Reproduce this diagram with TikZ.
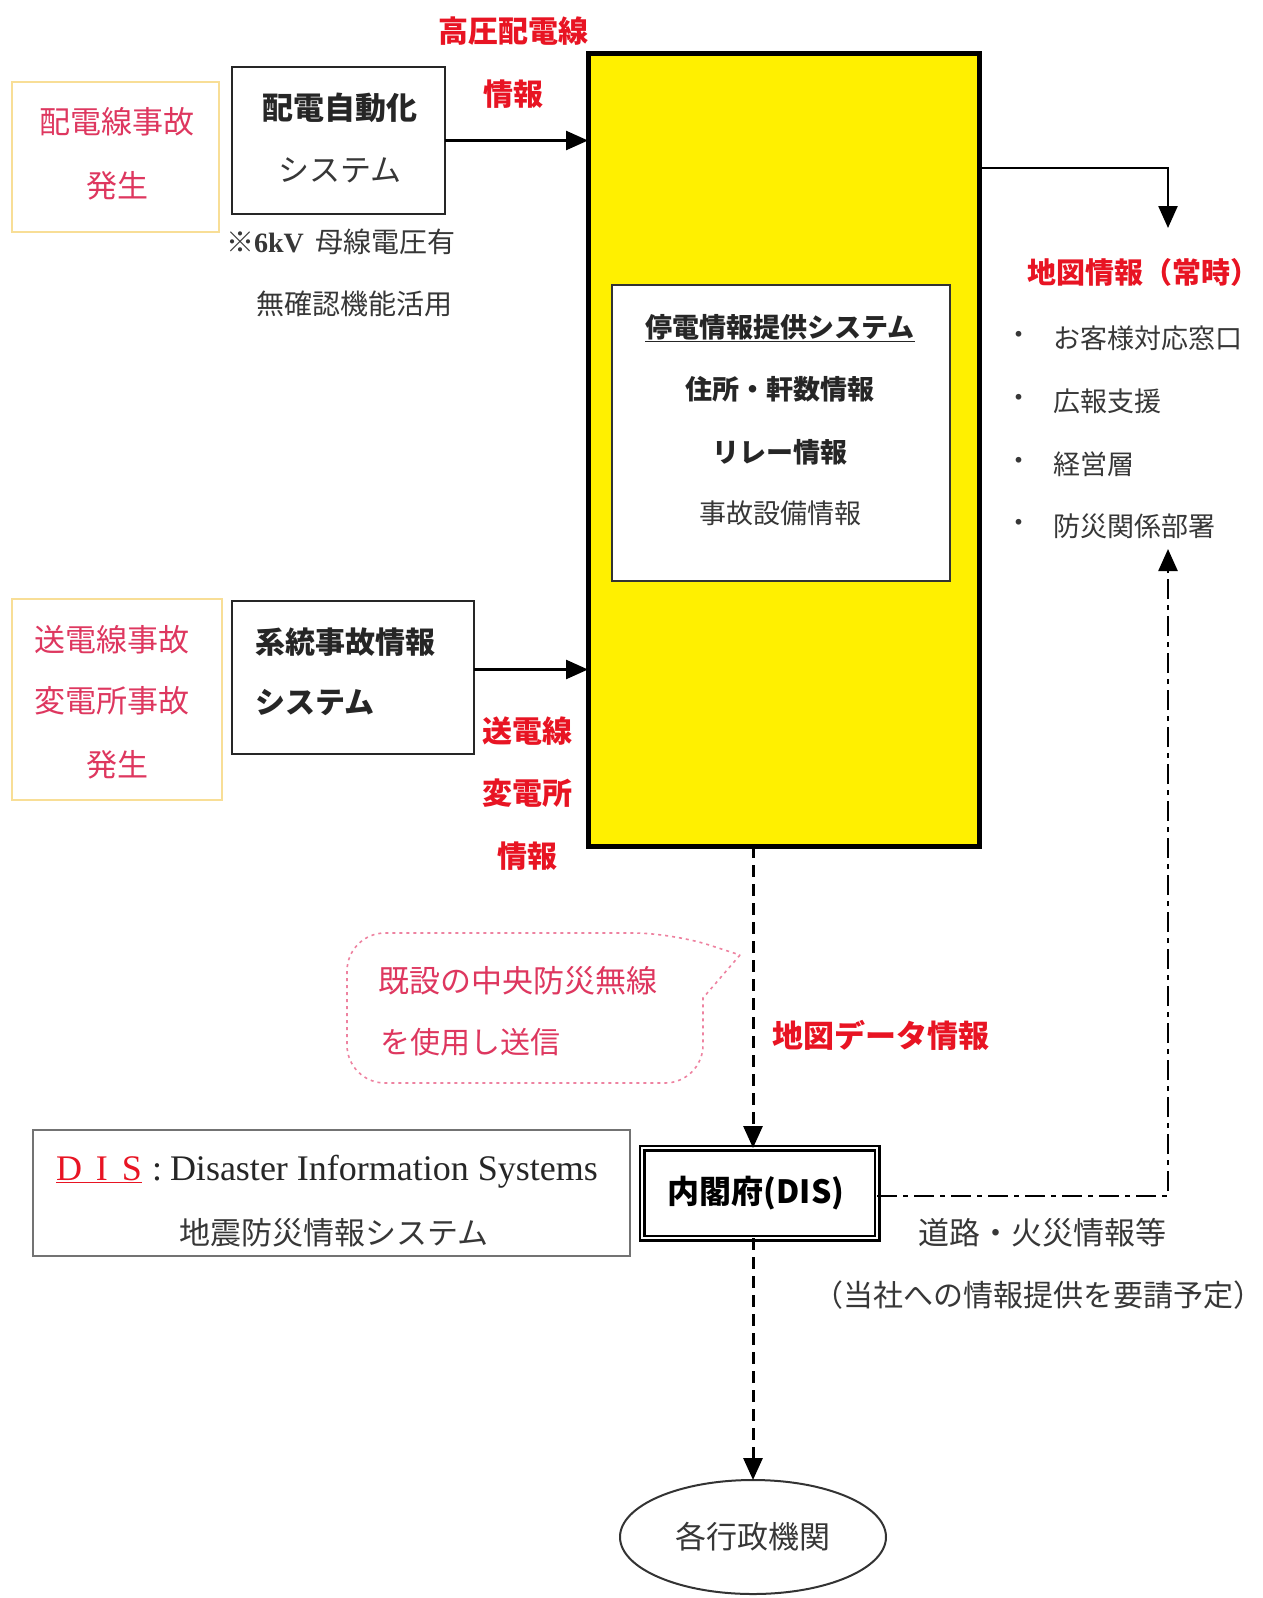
\documentclass[tikz,border=0pt]{standalone}
\usepackage{fontspec}
\setmainfont{Noto Sans CJK JP}
\newfontfamily\serifen{Liberation Serif}
\usetikzlibrary{arrows.meta,shapes.geometric,calc}
\definecolor{labred}{RGB}{232,20,35}
\definecolor{pinktxt}{RGB}{222,55,95}
\definecolor{srcborder}{RGB}{248,222,150}
\definecolor{callborder}{RGB}{238,130,160}
\definecolor{boxyellow}{RGB}{255,240,0}
\definecolor{txtgray}{RGB}{55,55,55}
\newcommand\fsz[1]{\fontsize{#1pt}{#1pt}\selectfont}
\begin{document}
\begin{tikzpicture}[x=1pt,y=-1pt,
  every node/.style={inner sep=0pt, outer sep=0pt},
  txt/.style={text=txtgray},
  redlabel/.style={text=labred, font=\fsz{30}\bfseries},
  pinklabel/.style={text=pinktxt, font=\fsz{31}},
  srcbox/.style={draw=srcborder, line width=2.5pt},
  sysbox/.style={draw=black!85, line width=2pt},
  arr/.style={line width=2.5pt, -{Triangle[length=22pt,width=19pt]}},
  dasharr/.style={line width=3pt, dash pattern=on 12pt off 7pt, -{Triangle[length=22pt,width=19pt]}},
  dotdasharr/.style={line width=2.5pt, dash pattern=on 20pt off 6pt on 5pt off 6pt, -{Triangle[length=22pt,width=19pt]}},
  callout/.style={draw=callborder, line width=1.6pt, dash pattern=on 3pt off 4pt}
]
\useasboundingbox[fill=white] (0,0) rectangle (1263,1598);

% ---- top source boxes ----
\node[srcbox, minimum width=207pt, minimum height=150pt] (srcA) at (115.5,157) {};
\node[pinklabel] (srcA1) at (117,122) {配電線事故};
\node[pinklabel] (srcA2) at (117,186) {発生};

\node[sysbox, minimum width=213pt, minimum height=147pt] (sysA) at (338.5,140.5) {};
\node[text=black!85, font=\fsz{31}\bfseries] (sysA1) at (340,108) {配電自動化};
\node[txt, font=\fsz{31}] (sysA2) at (340,170) {システム};

\node[txt, font=\fsz{28}, anchor=west] (note1) at (226,242) {※{\serifen\bfseries 6kV}\hspace{12pt}母線電圧有};
\node[txt, font=\fsz{28}] (note2) at (354,304) {無確認機能活用};

\node[redlabel] (lab1a) at (513,31) {高圧配電線};
\node[redlabel] (lab1b) at (513,94) {情報};

% ---- main yellow box ----
\node[draw=black, line width=5pt, fill=boxyellow, minimum width=391pt, minimum height=793pt] (main) at (783.5,449.5) {};
\node[draw=black!80, line width=2pt, fill=white, minimum width=338pt, minimum height=296pt] (inner) at (781,433) {};
\node[text=black!85, font=\fsz{27}\bfseries] (in1) at (780,328) {\underline{停電情報提供システム}};
\node[text=black!85, font=\fsz{27}\bfseries] (in2) at (780,389) {住所・軒数情報};
\node[text=black!85, font=\fsz{27}\bfseries] (in3) at (780,452) {リレー情報};
\node[txt, font=\fsz{27}] (in4) at (780,513) {事故設備情報};

\draw[arr] (sysA.east) -- (sysA.east -| main.west);

% ---- second source boxes ----
\node[srcbox, minimum width=210pt, minimum height=201pt] (srcB) at (117,699.5) {};
\node[pinklabel] (srcB1) at (112,640) {送電線事故};
\node[pinklabel] (srcB2) at (112,701) {変電所事故};
\node[pinklabel] (srcB3) at (117,765) {発生};

\node[sysbox, minimum width=242pt, minimum height=153pt] (sysB) at (353,677.5) {};
\node[text=black!85, font=\fsz{30}\bfseries, anchor=west] (sysB1) at (255,642) {系統事故情報};
\node[text=black!85, font=\fsz{30}\bfseries, anchor=west] (sysB2) at (255,703) {システム};

\draw[arr] ([yshift=8pt]sysB.east) -- ([yshift=8pt]sysB.east -| main.west);

\node[redlabel] (lab2a) at (527,731) {送電線};
\node[redlabel] (lab2b) at (527,793) {変電所};
\node[redlabel] (lab2c) at (527,856) {情報};

% ---- right side map info ----
\coordinate (mapin) at (1168,228);
\draw[arr] ([yshift=-115pt]main.north east) -| (mapin);
\node[text=labred, font=\fsz{29}\bfseries, anchor=east] (maptitle) at (1259,272) {地図情報（常時）};
\foreach \yy/\tt [count=\i] in {338/お客様対応窓口, 401/広報支援, 464/経営層, 526/防災関係部署}{
  \node[txt, font=\fsz{27}] (dot\i) at (1019,\yy) {・};
  \node[txt, font=\fsz{27}, anchor=west] (item\i) at (1053,\yy) {\tt};
}

% ---- callout ----
\draw[callout] (740,955) -- (703,998) [rounded corners=38pt] -- (703,1083) -- (347,1083) -- (347,933) -- (672,933) [sharp corners] -- cycle;
\node[pinklabel, anchor=west] (call1) at (378,981) {既設の中央防災無線};
\node[pinklabel, font=\fsz{30}, anchor=west] (call2) at (380,1042) {を使用し送信};

\node[text=labred, font=\fsz{31}\bfseries, anchor=west] (mapdata) at (772,1035) {地図データ情報};

% ---- DIS legend ----
\node[draw=black!55, line width=2.5pt, minimum width=597pt, minimum height=126pt] (legend) at (331.5,1193) {};
\node[font=\serifen\fsz{36}, text=black!85, anchor=west] (leg1) at (56,1172) {\textcolor{labred}{\underline{D\hspace{14pt}I\hspace{14pt}S}}\hspace{10pt}:\hspace{8pt}Disaster Information Systems};
\node[txt, font=\fsz{31}] (leg2) at (334,1233) {地震防災情報システム};

% ---- cabinet office ----
\node[draw=black, line width=2.5pt, double=white, double distance=2pt, minimum width=235pt, minimum height=90pt] (cab) at (759.5,1193) {};
\node[text=black, font=\fsz{32}\bfseries] (cabt) at (756,1193) {内閣府(DIS)};

% ---- government ----
\node[ellipse, draw=black!80, line width=2pt, minimum width=266pt, minimum height=114pt] (gov) at (753,1537) {};
\node[txt, font=\fsz{31}] (govt) at (753,1537) {各行政機関};

\draw[dasharr] (main.south -| gov.north) -- (cab.north -| gov.north);
\draw[dasharr] (cab.south -| gov.north) -- (gov.north);

\coordinate (bosai) at (1168,549);
\draw[dotdasharr] ([yshift=-3pt]cab.east) -| (bosai);

\node[txt, font=\fsz{31}] (road) at (1042,1233) {道路・火災情報等};
\node[txt, font=\fsz{30}] (req) at (1038,1295) {（当社への情報提供を要請予定）};
\end{tikzpicture}
\end{document}
